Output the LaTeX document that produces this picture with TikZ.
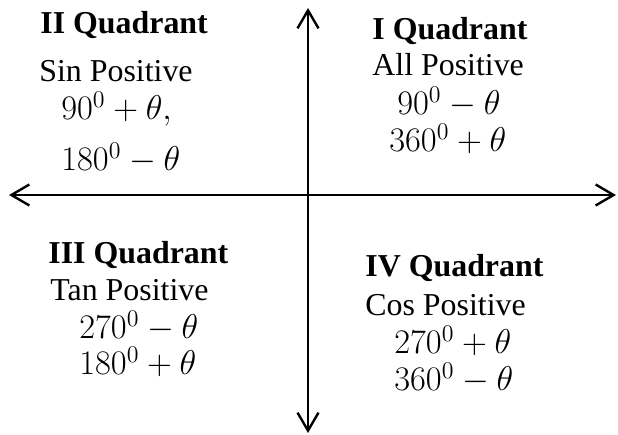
\documentclass[tikz,border=0pt]{standalone}
\usepackage[no-math]{fontspec}
\setmainfont{Liberation Serif}
\usepackage{amsmath,amssymb}
\usetikzlibrary{positioning, calc, arrows.meta}

\tikzset{
    axisline/.style={line width=1.2bp, {Straight Barb[length=9bp,width=10.5bp,line width=1.2bp]}-{Straight Barb[length=9bp,width=10.5bp,line width=1.2bp]}},
    quadtitle/.style={font=\bfseries\fontsize{16}{19}\selectfont, anchor=base west, inner sep=0pt},
    signtext/.style={font=\fontsize{16}{19}\selectfont, anchor=base west, inner sep=0pt},
    angletext/.style={font=\fontsize{16.5}{19}\selectfont, anchor=base west, inner sep=0pt}
}

\begin{document}
\begin{tikzpicture}[x=0.5bp, y=-0.5bp]
        \useasboundingbox (0,0) rectangle (618,435);

        % ==========================================
        % AXES
        % ==========================================
        \coordinate (left)   at (9, 195);
        \coordinate (right)  at (616, 195);
        \coordinate (top)    at (308, 8);
        \coordinate (bottom) at (308, 433);
        \draw[axisline] (left) -- (right);
        \draw[axisline] (top) -- (bottom);

        % ==========================================
        % II QUADRANT (top left)
        % ==========================================
        \node[quadtitle] (q2title) at (40, 34) {II Quadrant};
        \node[signtext]  (q2sign)  at (39, 82) {Sin Positive};
        \node[angletext] (q2a)     at (61, 120) {$90^{0}+\theta,$};
        \node[angletext] (q2b)     at (61, 171) {$180^{0}-\theta$};

        % ==========================================
        % I QUADRANT (top right)
        % ==========================================
        \node[quadtitle] (q1title) at (372, 40) {I Quadrant};
        \node[signtext]  (q1sign)  at (372, 76) {All Positive};
        \node[angletext] (q1a)     at (397, 115) {$90^{0}-\theta$};
        \node[angletext] (q1b)     at (389, 152) {$360^{0}+\theta$};

        % ==========================================
        % III QUADRANT (bottom left)
        % ==========================================
        \node[quadtitle] (q3title) at (48, 264) {III Quadrant};
        \node[signtext]  (q3sign)  at (50, 301) {Tan Positive};
        \node[angletext] (q3a)     at (79, 339) {$270^{0}-\theta$};
        \node[angletext] (q3b)     at (79, 375) {$180^{0}+\theta$};

        % ==========================================
        % IV QUADRANT (bottom right)
        % ==========================================
        \node[quadtitle] (q4title) at (365, 277) {IV Quadrant};
        \node[signtext]  (q4sign)  at (365, 316) {Cos Positive};
        \node[angletext] (q4a)     at (394, 354) {$270^{0}+\theta$};
        \node[angletext] (q4b)     at (394, 391) {$360^{0}-\theta$};

\end{tikzpicture}
\end{document}
